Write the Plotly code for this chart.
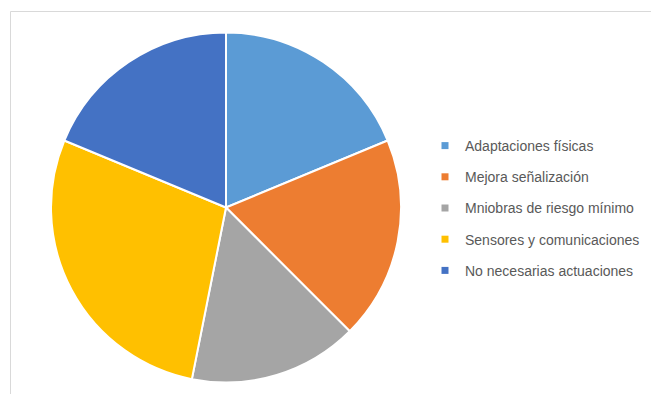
import plotly.graph_objects as go

labels = ["Adaptaciones físicas", "Mejora señalización", "Mniobras de riesgo mínimo",
          "Sensores y comunicaciones", "No necesarias actuaciones"]
values = [6, 6, 5, 9, 6]
colors = ["#5B9BD5", "#ED7D31", "#A5A5A5", "#FFC000", "#4472C4"]

W, H = 651, 394
fig = go.Figure()
fig.add_trace(go.Pie(
    labels=labels, values=values, sort=False, direction="clockwise", rotation=0,
    marker=dict(colors=colors, line=dict(color="white", width=2)),
    textinfo="none", showlegend=False,
    domain=dict(x=[51 / W, 401 / W], y=[(H - 383) / H, (H - 32) / H]),
))
for i, (lab, col) in enumerate(zip(labels, colors)):
    fig.add_trace(go.Scatter(
        x=[None], y=[None], mode="markers", name=lab, legendgroup=str(i),
        marker=dict(symbol="square", size=7, color=col), showlegend=True,
    ))

fig.update_layout(
    width=W, height=H, margin=dict(l=0, r=0, t=0, b=0),
    paper_bgcolor="white", plot_bgcolor="white",
    xaxis=dict(visible=False), yaxis=dict(visible=False),
    legend=dict(x=425 / W, y=(H - 130) / H, xanchor="left", yanchor="top",
                font=dict(family="Liberation Sans", size=14, color="#595959"),
                tracegroupgap=10, itemwidth=30, bgcolor="rgba(0,0,0,0)"),
    shapes=[dict(type="rect", xref="paper", yref="paper",
                 x0=10.5 / W, x1=1.2, y0=-0.2, y1=(H - 11.5) / H,
                 line=dict(color="#D9D9D9", width=1), fillcolor="rgba(0,0,0,0)", layer="below")],
)
fig.write_html("out.html")
